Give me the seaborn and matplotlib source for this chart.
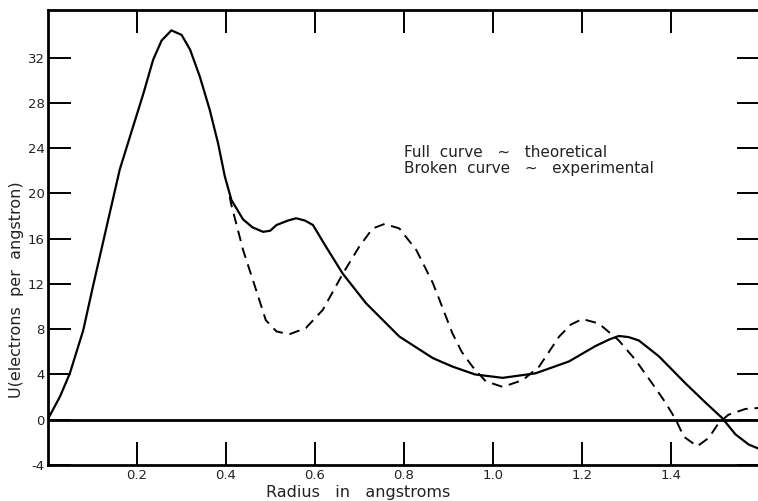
import numpy as np
import pandas as pd
import matplotlib
matplotlib.use("Agg")
import matplotlib.pyplot as plt
import seaborn as sns

# Theoretical (full curve)
theo_x = [0.000, 0.028, 0.050, 0.080, 0.102, 0.136, 0.162, 0.192, 0.215, 0.237,
          0.256, 0.278, 0.301, 0.320, 0.342, 0.364, 0.383, 0.398, 0.413, 0.439,
          0.460, 0.484, 0.500, 0.514, 0.540, 0.558, 0.578, 0.596, 0.625, 0.663,
          0.715, 0.790, 0.865, 0.909, 0.960, 1.022, 1.096, 1.171, 1.230, 1.262,
          1.283, 1.305, 1.328, 1.373, 1.433, 1.478, 1.515, 1.545, 1.575, 1.600]
theo_y = [0.0, 2.06, 4.1, 7.9, 11.8, 17.65, 22.1, 25.9, 28.8, 31.8,
          33.5, 34.4, 34.0, 32.7, 30.3, 27.4, 24.4, 21.5, 19.4, 17.7,
          17.0, 16.6, 16.7, 17.2, 17.6, 17.8, 17.6, 17.2, 15.3, 12.9,
          10.3, 7.35, 5.45, 4.7, 4.0, 3.7, 4.1, 5.15, 6.5, 7.1,
          7.4, 7.3, 7.0, 5.6, 3.2, 1.5, 0.15, -1.3, -2.2, -2.6]

# Experimental (broken curve)
exp_x = [0.409, 0.412, 0.439, 0.468, 0.490, 0.514, 0.543, 0.580, 0.618, 0.663,
         0.700, 0.730, 0.757, 0.790, 0.828, 0.865, 0.880, 0.909, 0.930, 0.954,
         0.984, 1.022, 1.067, 1.104, 1.149, 1.175, 1.201, 1.238, 1.283, 1.320,
         1.358, 1.388, 1.411, 1.429, 1.459, 1.485, 1.507, 1.529, 1.567, 1.600]
exp_y = [19.7, 19.1, 15.0, 11.5, 8.8, 7.8, 7.55, 8.1, 9.7, 12.9,
         15.3, 16.9, 17.3, 16.9, 15.0, 12.1, 10.6, 7.65, 6.0, 4.7,
         3.4, 2.9, 3.5, 4.7, 7.35, 8.4, 8.9, 8.5, 7.0, 5.3,
         3.2, 1.5, 0.0, -1.5, -2.35, -1.6, -0.3, 0.44, 0.95, 1.05]

x_ticks = [0.2, 0.4, 0.6, 0.8, 1.0, 1.2, 1.4, 1.6]
x_tick_labels = ["0.2", "0.4", "0.6", "0.8", "1.0", "1.2", "1.4", ""]
y_ticks = [-4, 0, 4, 8, 12, 16, 20, 24, 28, 32]
y_tick_labels = ["-4", "0", "4", "8", "12", "16", "20", "24", "28", "32"]

sns.set_style("ticks")
plt.rcParams['font.family'] = ['DejaVu Sans']

fig = plt.figure(figsize=(7.58, 5.01), dpi=100)
ax = fig.add_axes([47.6 / 758, 36 / 501, (760 - 47.6) / 758, 455 / 501])

df_t = pd.DataFrame({"r": theo_x, "u": theo_y})
df_e = pd.DataFrame({"r": exp_x, "u": exp_y})
sns.lineplot(data=df_t, x="r", y="u", ax=ax, color="black", lw=1.6, sort=False)
sns.lineplot(data=df_e, x="r", y="u", ax=ax, color="black", lw=1.4, sort=False)
ax.lines[-1].set_dashes((5.5, 3.5))

ax.axhline(0, color="black", lw=2.0)

ax.set_xlim(0, 1.6)
ax.set_ylim(-4, 36.2)
ax.set_xticks(x_ticks)
ax.set_xticklabels(x_tick_labels)
ax.set_yticks(y_ticks)
ax.set_yticklabels(y_tick_labels)

ax.tick_params(axis="both", direction="in", length=16.5, width=1.4,
               colors="black", labelsize=9.5, pad=2)
ax.tick_params(axis="x", top=True, pad=3)
ax.tick_params(axis="y", right=True, pad=2)
for lab in ax.get_xticklabels() + ax.get_yticklabels():
    lab.set_color("#222222")

for side in ["left", "bottom", "top"]:
    ax.spines[side].set_linewidth(2.0)
    ax.spines[side].set_color("black")
ax.spines["right"].set_visible(False)

ax.set_xlabel("Radius   in   angstroms", fontsize=11.5, color="#222222")
ax.set_ylabel("U(electrons  per  angstron)", fontsize=11.5, color="#222222")
ax.xaxis.set_label_coords(0.436, -0.043)
ax.yaxis.set_label_coords(-0.033, 0.385)

ax.text(0.80, 23.65, "Full  curve   ~   theoretical", fontsize=11,
        color="#222222", va="center", ha="left")
ax.text(0.80, 22.2, "Broken  curve   ~   experimental", fontsize=11,
        color="#222222", va="center", ha="left")

fig.savefig("out.png", dpi=100, facecolor="white")
